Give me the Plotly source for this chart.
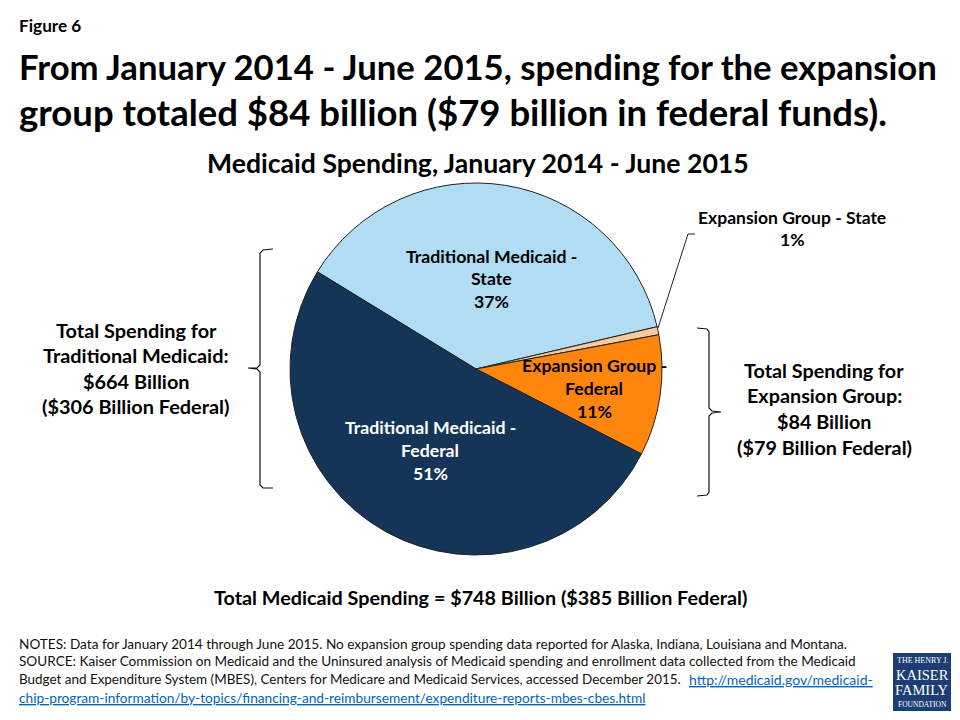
import plotly.graph_objects as go

# Data
slice_names = ["Traditional Medicaid - State", "Expansion Group - State",
               "Expansion Group - Federal", "Traditional Medicaid - Federal"]
slice_shares = [37.6, 0.7, 10.5, 51.2]
slice_colors = ["#B0DCF4", "#FCC99A", "#FF860D", "#143558"]

W, H = 960, 720
FONT = "Lato"
def px(x): return x / W
def py(y): return 1 - y / H

fig = go.Figure(go.Pie(
    labels=slice_names, values=slice_shares, sort=False, direction="clockwise",
    rotation=301.5, textinfo="none", hoverinfo="label+percent", showlegend=False,
    marker=dict(colors=slice_colors, line=dict(color="#222222", width=1)),
    domain=dict(x=[px(476 - 186), px(476 + 186)], y=[py(555), py(183)]),
))

anns = []
def text(x, y, s, size=17.5, color="#000000", bold=True, anchor="center"):
    label = f"<b>{s}</b>" if bold else s
    anns.append(dict(x=px(x), y=py(y), xref="paper", yref="paper", text=label, showarrow=False,
                     xanchor=anchor, yanchor="middle", align=anchor,
                     font=dict(family=FONT, size=size, color=color)))

text(17, 26, "Figure 6", 17.2, anchor="left")
text(17, 66, "From January 2014 - June 2015, spending for the expansion", 34.7, anchor="left")
text(17, 112, "group totaled $84 billion ($79 billion in federal funds).", 36.5, anchor="left")
text(478, 163, "Medicaid Spending, January 2014 - June 2015", 26.6)

for y, s in zip((256, 278, 301), ("Traditional Medicaid -", "State", "37%")):
    text(491, y, s, 17.7)
for y, s in zip((427, 450, 473), ("Traditional Medicaid -", "Federal", "51%")):
    text(430, y, s, 17.7, color="#FFFFFF")
for y, s in zip((365, 388, 411), ("Expansion Group -", "Federal", "11%")):
    text(594, y, s, 17.7)
for y, s in zip((217, 240), ("Expansion Group - State", "1%")):
    text(792, y, s, 17.5)

for y, s in zip((330, 355, 381, 406),
                ("Total Spending for", "Traditional Medicaid:", "$664 Billion", "($306 Billion Federal)")):
    text(136, y, s, 19.9)
for y, s in zip((370, 395, 421, 447),
                ("Total Spending for", "Expansion Group:", "$84 Billion", "($79 Billion Federal)")):
    text(824, y, s, 19.8)
text(480, 597, "Total Medicaid Spending = $748 Billion ($385 Billion Federal)", 19.8)

notes = [
    "NOTES: Data for January 2014 through June 2015. No expansion group spending data reported for Alaska, Indiana, Louisiana and Montana.",
    "SOURCE: Kaiser Commission on Medicaid and the Uninsured analysis of Medicaid spending and enrollment data collected from the Medicaid",
    "Budget and Expenditure System (MBES), Centers for Medicare and Medicaid Services, accessed December 2015.",
]
for y, s, size in zip((644, 661, 679), notes, (13.6, 13.6, 13.45)):
    text(17, y, s, size, color="#111111", bold=False, anchor="left")
text(687, 679, "<u>http://medicaid.gov/medicaid-</u>", 14, color="#0563C1", bold=False, anchor="left")
text(17, 697, "<u>chip-program-information/by-topics/financing-and-reimbursement/expenditure-reports-mbes-cbes.html</u>",
     13.7, color="#0563C1", bold=False, anchor="left")

# Logo
for y, s, size in ((660, "THE HENRY J.", 8), (675, "KAISER", 14.5), (690, "FAMILY", 14.5), (704, "FOUNDATION", 7.5)):
    anns.append(dict(x=px(922), y=py(y), xref="paper", yref="paper", text=s, showarrow=False,
                     xanchor="center", yanchor="middle",
                     font=dict(family="Liberation Serif", size=size, color="#FFFFFF")))

def path(*pts, close=""):
    return "M " + " L ".join(f"{px(x)} {py(y)}" for x, y in pts) + close

shapes = [
    dict(type="rect", xref="paper", yref="paper", x0=px(893), x1=px(951), y0=py(711), y1=py(653),
         fillcolor="#1D3E73", line=dict(width=0)),
    dict(type="path", xref="paper", yref="paper", line=dict(color="#222222", width=1),
         path=path((658, 328), (688, 234), (695, 234))),
    dict(type="path", xref="paper", yref="paper", line=dict(color="#111111", width=1.2),
         path=path((273, 249), (263, 250), (260, 253), (260, 365), (257, 368), (248, 368),
                   (257, 369), (260, 372), (260, 485), (263, 488), (273, 488))),
    dict(type="path", xref="paper", yref="paper", line=dict(color="#111111", width=1.2),
         path=path((697, 328), (707, 329), (709, 332), (709, 408), (712, 411), (721, 412),
                   (712, 413), (709, 416), (709, 492), (707, 495), (697, 496))),
]

fig.update_layout(width=W, height=H, margin=dict(l=0, r=0, t=0, b=0), paper_bgcolor="#FFFFFF",
                  annotations=anns, shapes=shapes, font=dict(family=FONT))
fig.write_html("out.html", post_script="document.body.style.margin='0';",
               config=dict(displayModeBar=False))
